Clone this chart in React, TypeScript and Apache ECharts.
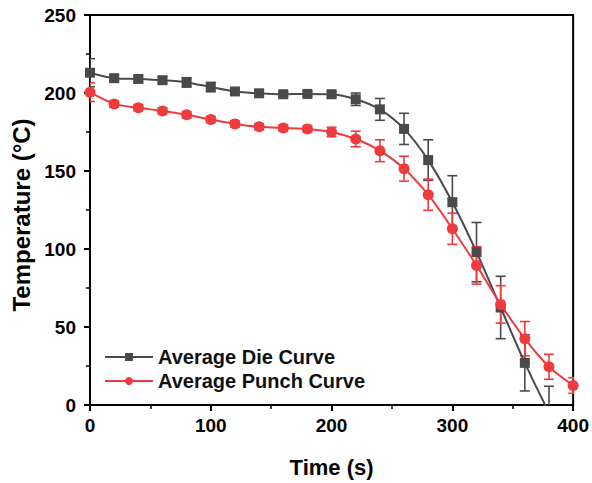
import React, { useEffect, useRef } from "react";
import * as echarts from "echarts";

const times = [0, 20, 40, 60, 80, 100, 120, 140, 160, 180, 200, 220, 240, 260, 280, 300, 320, 340, 360, 380, 400];
const dieValues = [213, 209.5, 209, 208.2, 206.8, 203.8, 201, 199.8, 199.2, 199.4, 199.2, 196, 189.5, 177, 157, 130, 98, 62.5, 27, -5];
const dieErrors = [9, 2, 2, 2, 3, 3, 2, 2, 1.5, 1.5, 2, 4, 7, 10, 13, 17, 19, 20, 18, 17];
const punchValues = [200.5, 193, 190.5, 188.5, 186, 183, 180.2, 178.4, 177.6, 177, 175, 170.5, 163, 151.5, 134.8, 113, 89.5, 64.5, 42.5, 24.5, 12.5];
const punchErrors = [6, 2, 2, 2, 2, 2, 2, 2, 2, 2, 3, 5, 7, 8, 10, 10, 12, 12, 11, 8, 5];

const dieColor = "#4a4a4a";
const punchColor = "#ef3b3d";

function errorSeries(name: string, vals: number[], errs: number[], color: string) {
  const data = vals.map((v, i) => [times[i], v - errs[i], v + errs[i]]);
  return {
    type: "custom",
    name: name + "_err",
    clip: true,
    silent: true,
    z: 1,
    data,
    renderItem: (params: any, api: any) => {
      const x = api.value(0);
      const lo = api.coord([x, api.value(1)]);
      const hi = api.coord([x, api.value(2)]);
      const w = 5;
      const style = { stroke: color, lineWidth: 1.6 };
      return {
        type: "group",
        children: [
          { type: "line", shape: { x1: lo[0], y1: lo[1], x2: hi[0], y2: hi[1] }, style },
          { type: "line", shape: { x1: lo[0] - w, y1: lo[1], x2: lo[0] + w, y2: lo[1] }, style },
          { type: "line", shape: { x1: hi[0] - w, y1: hi[1], x2: hi[0] + w, y2: hi[1] }, style },
        ],
      };
    },
  };
}

export default function App() {
  const ref = useRef<HTMLDivElement>(null);
  useEffect(() => {
    document.body.style.margin = "0";
    const chart = echarts.init(ref.current!, undefined, { renderer: "svg" });
    const font = "Arial, 'Liberation Sans', sans-serif";
    chart.setOption({
      animation: false,
      backgroundColor: "#ffffff",
      textStyle: { fontFamily: font },
      grid: {
        left: 90,
        top: 15,
        right: 16,
        bottom: 78,
        show: true,
        borderColor: "#000",
        borderWidth: 2,
        containLabel: false,
      },
      legend: {
        orient: "vertical",
        left: 99,
        top: 342,
        itemWidth: 48,
        itemHeight: 10,
        itemGap: 4,
        textStyle: { fontSize: 20, fontWeight: "bold", color: "#111", fontFamily: font },
        data: [
          { name: "Average Die Curve" },
          { name: "Average Punch Curve" },
        ],
      },
      xAxis: {
        type: "value",
        min: 0,
        max: 400,
        interval: 100,
        name: "Time (s)",
        nameLocation: "middle",
        nameGap: 51,
        nameTextStyle: { fontSize: 22, fontWeight: "bold", color: "#000", fontFamily: font },
        axisLine: { lineStyle: { color: "#000", width: 2 } },
        axisTick: { show: true, inside: false, length: 6, lineStyle: { width: 2, color: "#000" } },
        minorTick: { show: true, splitNumber: 2, length: 4, lineStyle: { width: 1.5, color: "#000" } },
        axisLabel: { fontSize: 19, fontWeight: "bold", color: "#000", margin: 11, fontFamily: font },
        splitLine: { show: false },
      },
      yAxis: {
        type: "value",
        min: 0,
        max: 250,
        interval: 50,
        name: "Temperature (°C)",
        nameLocation: "middle",
        nameGap: 55,
        nameTextStyle: { fontSize: 24, fontWeight: "bold", color: "#000", fontFamily: font, padding: [0, 10, 0, 0] },
        axisLine: { lineStyle: { color: "#000", width: 2 } },
        axisTick: { show: true, inside: false, length: 6, lineStyle: { width: 2, color: "#000" } },
        minorTick: { show: true, splitNumber: 2, length: 4, lineStyle: { width: 1.5, color: "#000" } },
        axisLabel: { fontSize: 19, fontWeight: "bold", color: "#000", margin: 14, fontFamily: font },
        splitLine: { show: false },
      },
      series: [
        errorSeries("die", dieValues, dieErrors, dieColor),
        errorSeries("punch", punchValues, punchErrors, punchColor),
        {
          name: "Average Die Curve",
          type: "line",
          data: dieValues.map((v, i) => [times[i], v]),
          smooth: 0.3,
          symbol: "rect",
          symbolSize: 10,
          clip: true,
          z: 3,
          itemStyle: { color: dieColor },
          lineStyle: { color: dieColor, width: 2 },
        },
        {
          name: "Average Punch Curve",
          type: "line",
          data: punchValues.map((v, i) => [times[i], v]),
          smooth: 0.3,
          symbol: "circle",
          symbolSize: 11,
          clip: true,
          z: 4,
          itemStyle: { color: punchColor },
          lineStyle: { color: punchColor, width: 2 },
        },
      ],
    });
    return () => chart.dispose();
  }, []);
  return <div ref={ref} style={{ width: 592, height: 483 }} />;
}
